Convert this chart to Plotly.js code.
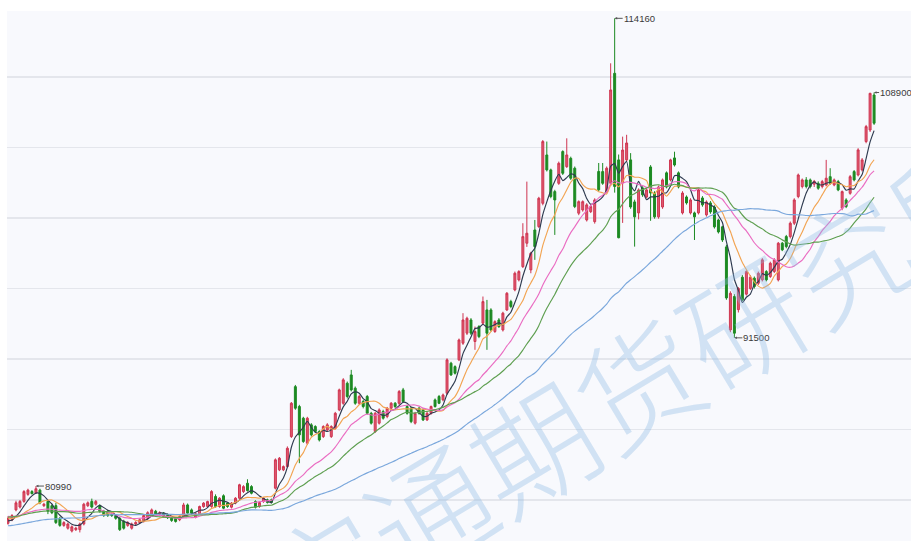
<!DOCTYPE html>
<html>
<head>
<meta charset="utf-8">
<script src="https://cdn.plot.ly/plotly-3.0.1.min.js"></script>
<style>html,body{margin:0;padding:0;background:#fff;}#chart{width:911px;height:541px;}</style>
</head>
<body>
<div id="chart"></div>
<script>
// Closing prices before the first visible candle (estimated), used only to seed moving averages
const histClose = [77400,77200,77000,77300,77600,77500,77100,76900,77200,77500,77800,77600,77300,77100,77400,77700,77900,77600,77300,77500,77800,78000,77700,77500,77800,78100,78300,78000,77800,
78100,78400,78700,78500,78300,78600,78900,79100,78800,78600,78900,79200,79000,78700,78500,78800,79100,79300,79000,78800,
79000,79300,79100,78800,78600,78900,78700,78400,78300,78500];

const open = [
78350,78600,79300,79500,79900,80400,80600,80500,80700,79600,79900,79600,79600,78700,78200,78000,77800,77900,77900,78300,79600,79900,79700,79600,79200,79200,79000,78900,78700,78500,78200,78000,78300,78400,78500,78700,79000,79200,79000,
79070,78950,78710,78700,78600,78830,79650,79300,78780,79020,79540,79540,79540,80250,79540,80300,79780,79490,79780,80130,80600,81190,80950,79890,79540,79890,80010,80010,80840,82140,82140,82370,84500,88040,86630,85800,84030,
85330,85210,84860,84500,84970,84500,85090,86390,86860,88280,88870,87930,86860,86980,87340,86150,84860,85450,86270,85920,86510,86860,86860,87810,86630,86510,85450,86510,86390,85680,86150,87100,87340,87100,87570,89700,89460,89940,91120,
91830,92770,91240,92300,92540,93480,93480,91950,92770,92060,93480,94070,94900,95610,96550,98210,96320,99150,99390,101040,104470,103410,101870,102460,104710,103640,104230,103530,100340,100570,99860,100450,99740,103300,103290,101870,
102460,110260,104120,102500,104120,104120,101140,100360,102130,101490,103620,101770,100080,100780,103200,102700,104260,103200,100360,101490,100360,100360,100360,101420,100220,101070,100780,99860,99370,97950,92060,94430,
93500,95800,94600,95000,95730,95370,95610,96200,95850,96200,95610,98210,98680,98680,99630,101520,102230,102700,102700,102400,102460,102230,102340,102930,102340,102580,100690,101280,101750,103290,103050,103410,105420,106240,108720];

const high = [
78850,79000,79950,80000,80700,80800,80700,80990,80800,79800,80000,79700,79800,78800,78500,78400,78200,78100,78400,79800,79900,80100,80000,79700,79300,79300,79100,79000,78800,78600,78500,78400,78500,78700,79000,79200,79400,79300,79200,
79150,79050,78800,78780,78900,79800,79750,79400,79100,79600,79850,79950,80700,80400,80200,80400,79850,79850,80200,81150,81050,81470,81050,79980,79900,80200,80100,80100,82950,83050,82450,83800,86950,88160,86750,85900,85900,
85450,85300,84950,85300,85450,85300,86250,87900,88640,88400,89230,88050,87450,87100,87450,86250,86250,86500,86400,86600,86950,86950,87800,87950,86750,86600,86250,86600,86500,86250,86700,87200,87450,87550,90050,89800,89550,91450,93250,
93000,92900,92300,92400,94430,94190,93600,92750,92900,93350,94750,94200,96200,96300,99630,102580,97600,99860,101500,105530,105420,103500,102000,104000,104800,105650,104350,103650,101250,101250,101050,100950,101400,103900,103900,103650,
110970,114160,104500,105770,105900,104600,101300,102100,102250,102100,103750,101900,102300,102800,103300,104200,104700,103300,101900,101600,101400,100450,102100,101550,101250,101200,100900,99950,99450,98100,94800,94600,
95100,95950,96300,95950,95850,96200,97150,96300,96900,97150,98300,98300,98800,99750,101400,103150,102800,102900,102800,102700,102600,102700,104120,103530,102800,102700,101950,101400,103050,103400,104950,104250,106600,108880,108900];

const low = [
78250,78500,79200,79400,79800,80300,80400,80450,79700,79500,79000,79000,78300,78100,78100,77900,77700,77800,77700,78200,79500,79400,79600,79100,78800,78800,78800,78600,77800,77900,78100,77900,78200,78300,78400,78600,78900,78900,78900,
78750,78650,78450,78400,78500,78750,79000,78950,78700,78950,79450,79450,79450,79450,79450,79350,79450,79400,79700,80050,80500,80600,80400,79400,79450,79800,79750,79750,80750,82050,82050,82300,84400,86400,82610,84050,83900,
84500,84750,84150,84400,84900,84400,85000,86300,86750,87200,87700,86750,86750,86500,86050,85350,84750,85350,85700,85800,86400,86500,86750,86900,86050,85450,85350,86050,85600,85600,86050,86550,86800,87000,87450,88800,88900,89850,91000,
91700,91700,90650,91480,92400,90650,91950,91850,92200,91950,93400,93600,94800,95500,96450,97950,96080,97030,99300,100900,103300,101400,98800,102350,103050,103550,102700,100700,100200,100450,99750,100350,99600,101900,102350,101750,
102300,101800,98560,99650,104000,100650,97970,99900,101500,101400,99800,99950,99950,100650,102100,102600,103650,102100,100250,100950,100250,98440,100250,100800,100100,100300,99250,98900,98300,94200,91900,91500,
93300,94100,94500,94900,95000,95250,95500,95500,95750,96100,95500,97650,97850,98550,99500,101400,102100,102100,102100,102200,102000,102100,102250,102350,102250,101900,100550,100700,101650,102600,102950,103300,105300,106100,106600];

const close = [
78700,78900,79800,79900,80600,80700,80450,80800,79800,79700,79200,79100,78400,78200,78400,78300,78100,78000,78300,79700,79800,79500,79900,79200,78900,78900,78900,78700,77900,78000,78400,78300,78400,78600,78900,79100,79300,79000,79100,
78830,78750,78550,78480,78830,79650,79070,79070,79020,79540,79780,79890,80600,79540,80130,79420,79540,79780,80130,81080,80950,80670,80480,79490,79820,80130,79820,79820,82850,82960,82370,83670,86860,86510,84620,84150,85800,
84620,84860,84260,85210,85330,85210,86150,87810,88520,87340,87810,86860,87340,86630,86150,85450,86150,86390,85800,86510,86860,86630,87690,86980,86150,85560,86150,86150,85680,86150,86630,86630,86860,87450,89940,88870,88990,91350,92770,
92890,91830,91950,91590,94070,91830,92060,92650,92300,93250,94660,93720,96080,96200,98680,98920,97500,97970,101400,105420,103410,101520,101280,103880,103170,104470,102820,100810,101160,101160,100930,100810,101280,102000,102460,103530,
109080,102230,98600,104820,105320,100780,100080,101990,101640,101990,101770,100080,102200,102700,102200,104120,103760,102200,101770,101070,101280,100080,101990,100930,101140,100430,99370,99010,98440,94330,94660,91830,
95000,94200,96200,95800,95140,96080,97030,95610,96790,97030,98210,97740,97970,99630,101280,103050,102700,102230,102230,102600,102110,102580,102820,102460,102700,101990,101870,100810,102930,102700,104830,104120,106480,108840,106720];

const maPeriods = [5, 10, 20, 30, 60];
const maColors = ['#2e3a4f', '#f2a452', '#ea6cc2', '#5e9f50', '#7aa7dc'];

const markLabels = ['80990', '114160', '91500', '108900'];
const markIndex = [7, 152, 182, 217];
const markPrice = [80990, 114160, 91500, 108900];

const watermark = '宝通期货研究所';

const xIdx = close.map((_, i) => i);
const allClose = histClose.concat(close);
const off = histClose.length;

function movingAverage(n) {
  return close.map((_, i) => {
    const end = off + i;
    let s = 0;
    for (let k = end - n + 1; k <= end; k++) s += allClose[k];
    return s / n;
  });
}

const traces = [{
  type: 'candlestick',
  x: xIdx, open: open, high: high, low: low, close: close,
  increasing: {line: {color: '#cf3550', width: 1}, fillcolor: '#df5a70'},
  decreasing: {line: {color: '#1c8a22', width: 1}, fillcolor: '#1c8a22'},
  whiskerwidth: 0,
  hoverinfo: 'skip',
  showlegend: false
}];
maPeriods.forEach((n, j) => {
  traces.push({
    type: 'scatter', mode: 'lines', x: xIdx, y: movingAverage(n),
    line: {color: maColors[j], width: 1.15, shape: 'spline', smoothing: 0.6},
    hoverinfo: 'skip', showlegend: false
  });
});

const annotations = markLabels.map((t, i) => ({
  x: markIndex[i], y: markPrice[i], xref: 'x', yref: 'y',
  text: t, showarrow: true, ax: (i === markLabels.length - 1 ? 5 : 8), ay: 0,
  xanchor: 'left', yanchor: 'middle',
  arrowhead: 2, arrowsize: 0.5, arrowwidth: 1, arrowcolor: '#555', standoff: 0,
  font: {family: 'Liberation Sans, Arial, sans-serif', size: 9.5, color: '#3a3a3a'},
  borderpad: 0
}));
annotations.push({
  xref: 'paper', yref: 'paper', x: 0.696, y: 0.302, xanchor: 'center', yanchor: 'middle',
  text: watermark, showarrow: false, textangle: -31,
  font: {family: 'Noto Sans CJK SC', size: 122, color: 'rgba(140,185,228,0.36)', weight: 300}
});

const layout = {
  width: 911, height: 541,
  margin: {l: 7, r: 0, t: 11, b: 0},
  paper_bgcolor: '#ffffff',
  plot_bgcolor: '#f8f9fd',
  showlegend: false,
  hovermode: false,
  xaxis: {range: [-0.25, 226.25], showgrid: false, zeroline: false, showticklabels: false,
          showline: false, ticks: '', rangeslider: {visible: false}, fixedrange: true},
  yaxis: {range: [77093, 114679], tick0: 0, dtick: 5000, showgrid: true, gridcolor: '#e4e6ec',
          gridwidth: 1.5, zeroline: false, showticklabels: false, showline: false, ticks: '', fixedrange: true},
  annotations: annotations
};

Plotly.newPlot('chart', traces, layout, {displayModeBar: false, staticPlot: true});
</script>
</body>
</html>
